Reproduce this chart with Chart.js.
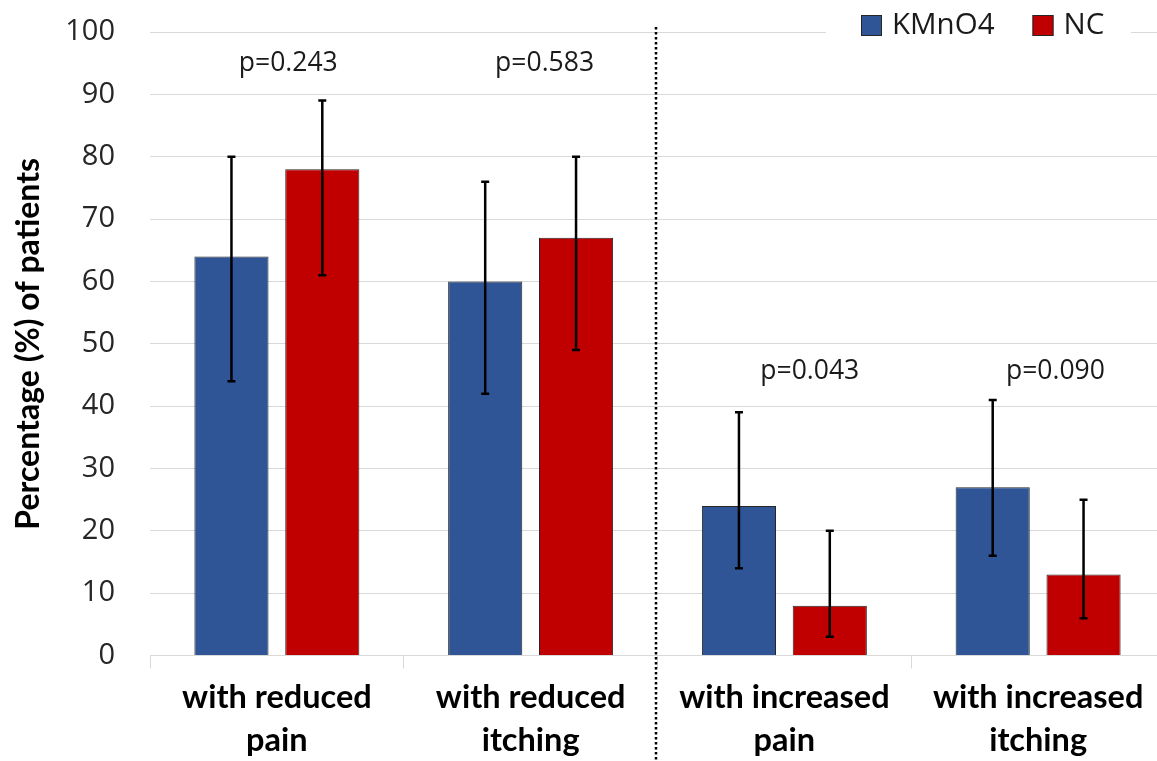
<!DOCTYPE html>
<html>
<head>
<meta charset="utf-8">
<script src="https://cdn.jsdelivr.net/npm/chart.js@4/dist/chart.umd.min.js"></script>
<style>
  html, body { margin: 0; padding: 0; background: #fff; overflow: hidden; }
  #wrap { width: 1157px; height: 761px; overflow: hidden; }
</style>
</head>
<body>
<div id="wrap"><canvas id="c" width="1165" height="761"></canvas></div>
<script>
// ---- data ----
const categories = [['with reduced', 'pain'], ['with reduced', 'itching'], ['with increased', 'pain'], ['with increased', 'itching']];
const seriesNames = ['KMnO4', 'NC'];
const kmno4Values = [64, 60, 24, 27];
const ncValues = [78, 67, 8, 13];
const kmno4Low = [44, 42, 14, 16];
const kmno4High = [80, 76, 39, 41];
const ncLow = [61, 49, 3, 6];
const ncHigh = [89, 80, 20, 25];
const pLabels = ['p=0.243', 'p=0.583', 'p=0.043', 'p=0.090'];
const pLabelY = [94.9, 94.9, 45.5, 45.5];
const pLabelDx = [0.045, 0.055, 0.1, 0.068];
const yMin = 0, yMax = 100, yStep = 10;
const yTitle = 'Percentage (%) of patients';

const colors = ['#2F5597', '#C00000'];
const errLow = [kmno4Low, ncLow];
const errHigh = [kmno4High, ncHigh];

const errorBars = {
  id: 'errorBars',
  afterDatasetsDraw(chart) {
    const ctx = chart.ctx, y = chart.scales.y;
    ctx.save();
    ctx.strokeStyle = '#000';
    ctx.lineWidth = 2.5;
    chart.data.datasets.forEach((ds, di) => {
      const meta = chart.getDatasetMeta(di);
      meta.data.forEach((bar, i) => {
        const yl = y.getPixelForValue(errLow[di][i]);
        const yh = y.getPixelForValue(errHigh[di][i]);
        const x = bar.x;
        ctx.beginPath();
        ctx.moveTo(x, yl); ctx.lineTo(x, yh);
        ctx.moveTo(x - 4, yl); ctx.lineTo(x + 4, yl);
        ctx.moveTo(x - 4, yh); ctx.lineTo(x + 4, yh);
        ctx.stroke();
      });
    });
    // p-value annotations
    const xs = chart.scales.x;
    ctx.fillStyle = '#1a1a1a';
    ctx.font = '26.5px "Open Sans"';
    ctx.textAlign = 'center';
    ctx.textBaseline = 'middle';
    pLabels.forEach((t, i) => {
      ctx.fillText(t, xs.getPixelForValue(i + pLabelDx[i]), y.getPixelForValue(pLabelY[i]));
    });
    ctx.restore();
  },
  afterDraw(chart) {
    const ctx = chart.ctx, xs = chart.scales.x;
    const x = Math.round(xs.getPixelForValue(1.5)) - 2;
    ctx.save();
    ctx.strokeStyle = '#000';
    ctx.lineWidth = 2.5;
    ctx.setLineDash([2.5, 2.5]);
    ctx.beginPath();
    ctx.moveTo(x, chart.chartArea.top - 5);
    ctx.lineTo(x, chart.height);
    ctx.stroke();
    ctx.restore();

    // legend (from datasets)
    ctx.save();
    ctx.fillStyle = '#fff';
    ctx.fillRect(826, 10, 305, 32);
    ctx.font = '29.5px "Open Sans"';
    ctx.textBaseline = 'middle';
    ctx.textAlign = 'left';
    let lx = 861;
    chart.data.datasets.forEach((ds, di) => {
      ctx.fillStyle = ds.backgroundColor;
      ctx.fillRect(lx, 15, 21, 21);
      ctx.strokeStyle = '#262626';
      ctx.lineWidth = 1;
      ctx.strokeRect(lx + 0.5, 15.5, 20, 20);
      ctx.fillStyle = '#1a1a1a';
      ctx.fillText(ds.label, lx + 31, 26);
      lx += 31 + ctx.measureText(ds.label).width + 38;
    });
    ctx.restore();
  }
};

new Chart(document.getElementById('c'), {
  type: 'bar',
  data: {
    labels: categories,
    datasets: [
      { label: seriesNames[0], data: kmno4Values, backgroundColor: colors[0], borderColor: '#262626', borderWidth: 1 },
      { label: seriesNames[1], data: ncValues, backgroundColor: colors[1], borderColor: '#262626', borderWidth: 1 }
    ]
  },
  options: {
    responsive: false,
    animation: false,
    devicePixelRatio: 1,
    categoryPercentage: 0.716,
    barPercentage: 0.816,
    layout: { padding: { top: 32, left: 6, right: 0, bottom: -8 } },
    plugins: { legend: { display: false }, tooltip: { enabled: false } },
    scales: {
      x: {
        offset: true,
        grid: { display: true, drawOnChartArea: false, drawTicks: true, tickLength: 13, color: '#d9d9d9', offset: true },
        border: { display: true, color: '#d9d9d9' },
        ticks: {
          color: '#000', autoSkip: false, maxRotation: 0, padding: 7,
          font: { family: 'Lato', weight: 'bold', size: 32.5, lineHeight: 1.33 }
        }
      },
      y: {
        min: yMin, max: yMax,
        afterFit: (s) => { s.width = 144; },
        grid: { color: '#d9d9d9', drawTicks: true, tickLength: 21, tickColor: 'rgba(0,0,0,0)' },
        border: { display: false },
        ticks: { stepSize: yStep, padding: 14, color: '#262626', font: { family: 'Open Sans', size: 29 } },
        title: {
          display: true, text: yTitle, color: '#000',
          font: { family: 'Lato', weight: 'bold', size: 32 },
          padding: { top: 3, bottom: 10 }
        }
      }
    }
  },
  plugins: [errorBars]
});
</script>
</body>
</html>
